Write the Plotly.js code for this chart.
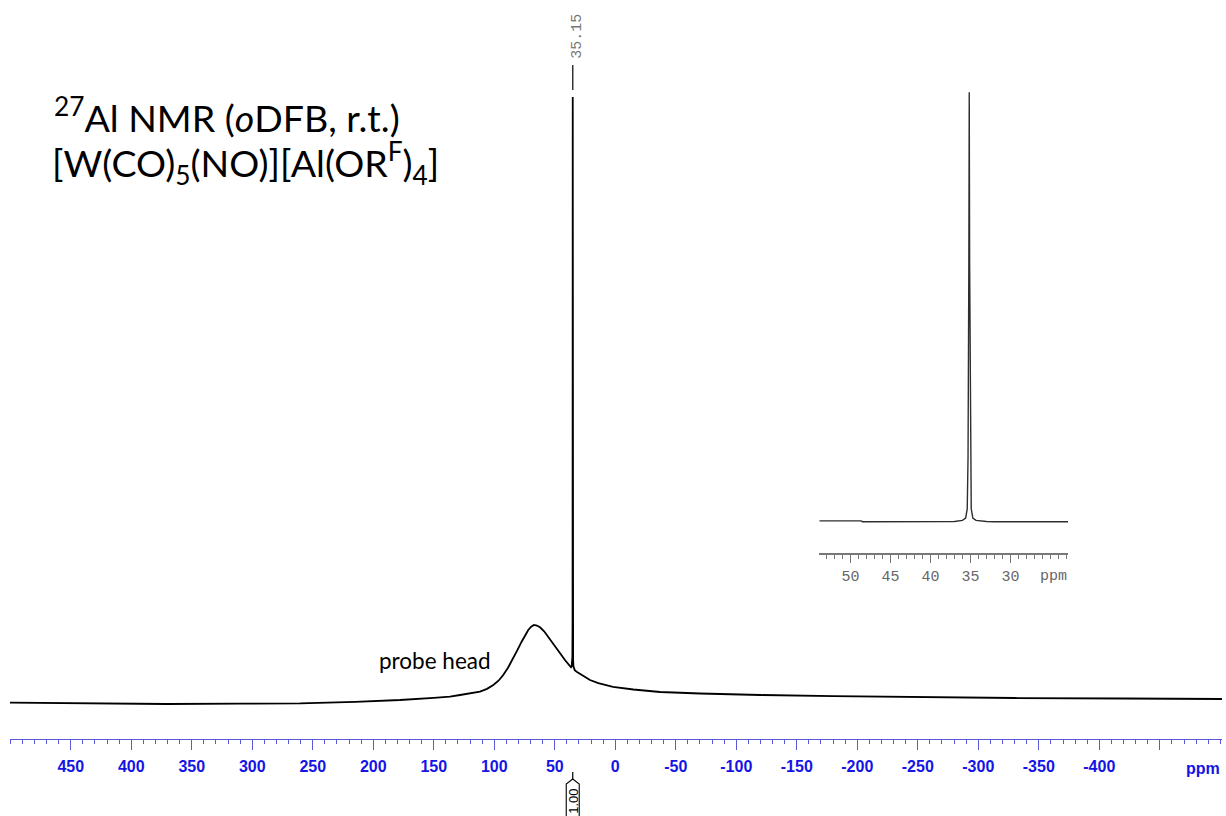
<!DOCTYPE html>
<html>
<head>
<meta charset="utf-8">
<script src="https://cdn.plot.ly/plotly-3.0.1.min.js"></script>
<style>
  html, body { margin: 0; padding: 0; background: #ffffff; }
  #chart { width: 1226px; height: 816px; }
</style>
</head>
<body>
<div id="chart"></div>
<script>
// ---- data ----
// main 27Al spectrum (chemical shift in ppm, relative intensity; sharp peak = 100)
const mainPpm = [500.2, 440, 370.7, 310, 260.6, 215, 177.9, 150, 136.6, 128.3, 120, 111.8, 106, 100.8, 96.5, 92.6, 88.5, 84.3, 80.8, 77.4, 74.5, 71.9, 69.5, 67.2, 64.8, 62.2, 58.8, 55.4, 51.9, 48.4, 45, 41.6, 39, 36.6, 36.0, 35.6, 35.45, 35.3, 35.22, 35.15, 35.08, 35.0, 34.85, 34.6, 34.2, 33.5, 31.9, 26, 20.9, 14, 8, 1.9, -15, -37, -70, -120, -180, -250, -330, -420, -501.4];
const mainInt = [-0.45, -0.6, -0.66, -0.6, -0.55, -0.3, 0, 0.35, 0.55, 0.83, 1.08, 1.38, 1.85, 2.49, 3.2, 4.15, 5.4, 6.92, 8.3, 9.67, 10.75, 11.61, 12.15, 12.44, 12.35, 12.06, 11.4, 10.5, 9.55, 8.57, 7.6, 6.63, 6.0, 5.42, 5.6, 6.6, 7.18, 13.3, 41.5, 100, 41.5, 13.3, 6.8, 5.6, 5.1, 4.95, 4.69, 3.9, 3.32, 2.8, 2.45, 2.16, 1.74, 1.33, 1.08, 0.83, 0.66, 0.5, 0.33, 0.25, 0.17];

// inset: expansion 53.9 - 22.8 ppm
const insetPpm = [53.9, 48.7, 48.5, 40, 37, 36, 35.6, 35.4, 35.3, 35.2, 35.15, 35.1, 35.0, 34.9, 34.7, 34.3, 33, 32, 22.8];
const insetInt = [0.2, 0.2, 0, 0, 0.05, 0.3, 0.86, 3, 15, 60, 100, 60, 15, 3, 0.86, 0.3, 0.05, 0, 0];

// tick labels
const mainTickVals = [450, 400, 350, 300, 250, 200, 150, 100, 50, 0, -50, -100, -150, -200, -250, -300, -350, -400, -450];
const mainTickText = ['450', '400', '350', '300', '250', '200', '150', '100', '50', '0', '-50', '-100', '-150', '-200', '-250', '-300', '-350', '-400', ''];
const insetTickVals = [50, 45, 40, 35, 30];
const insetTickText = ['50', '45', '40', '35', '30'];

const peakPpm = 35.15;
const peakLabel = '35.15';
const integralLabel = '1.00';

// ---- layout helpers (pixels -> paper) ----
const W = 1226, H = 816;
const px = v => v / W;
const py = v => (H - v) / H;

const axisBlue = '#5a5ad8';
const labelBlue = '#1414e6';

const traces = [
  {
    x: mainPpm, y: mainInt, type: 'scatter', mode: 'lines',
    line: { color: '#000000', width: 1.8 },
    xaxis: 'x', yaxis: 'y', hoverinfo: 'skip', showlegend: false
  },
  {
    x: insetPpm, y: insetInt, type: 'scatter', mode: 'lines',
    line: { color: '#2e2e2e', width: 1.4 },
    xaxis: 'x2', yaxis: 'y2', hoverinfo: 'skip', showlegend: false
  }
];

const layout = {
  width: W, height: H,
  margin: { l: 0, r: 0, t: 0, b: 0, pad: 0 },
  paper_bgcolor: '#ffffff', plot_bgcolor: 'rgba(0,0,0,0)',
  showlegend: false,
  xaxis: {
    domain: [px(10), px(1222)], range: [500.2, -501.4], anchor: 'y',
    showline: true, linecolor: axisBlue, linewidth: 1.5,
    ticks: 'outside', ticklen: 10, tickwidth: 1.2, tickcolor: axisBlue,
    tickmode: 'array', tickvals: mainTickVals, ticktext: mainTickText,
    ticklabelstandoff: 3,
    tickfont: { family: 'Liberation Sans, Arial, sans-serif', size: 16, color: labelBlue, weight: 'bold' },
    minor: { dtick: 10, tick0: 0, ticks: 'outside', ticklen: 4, tickwidth: 1, tickcolor: axisBlue, showgrid: false },
    showgrid: false, zeroline: false, fixedrange: true
  },
  yaxis: {
    domain: [py(738.6), 1], range: [-6.40, 116.08], anchor: 'x',
    visible: false, showgrid: false, zeroline: false, fixedrange: true
  },
  xaxis2: {
    domain: [px(819.3), px(1068)], range: [53.9, 22.8], anchor: 'y2',
    showline: true, linecolor: '#777777', linewidth: 1.2,
    ticks: 'outside', ticklen: 8, tickwidth: 1, tickcolor: '#777777',
    tickmode: 'array', tickvals: insetTickVals, ticktext: insetTickText,
    tickfont: { family: 'Liberation Mono, Courier New, monospace', size: 15, color: '#666666' },
    minor: { dtick: 1, tick0: 0, ticks: 'outside', ticklen: 4, tickwidth: 1, tickcolor: '#777777', showgrid: false },
    showgrid: false, zeroline: false, fixedrange: true
  },
  yaxis2: {
    domain: [py(553.3), 1], range: [-7.36, 121.5], anchor: 'x2',
    visible: false, showgrid: false, zeroline: false, fixedrange: true
  },
  shapes: [
    // peak-pick tick above the sharp signal
    { type: 'line', xref: 'x', yref: 'paper', x0: peakPpm, x1: peakPpm, y0: py(90), y1: py(65),
      line: { color: '#333333', width: 1.5 } },
    // integral marker below the axis
    { type: 'line', xref: 'x', yref: 'paper', x0: peakPpm, x1: peakPpm, y0: py(779), y1: py(772),
      line: { color: '#000000', width: 1.2 } },
    { type: 'path', xref: 'x', yref: 'paper', xsizemode: 'pixel', ysizemode: 'pixel',
      xanchor: peakPpm, yanchor: 0,
      path: 'M -6.5 0 L -6.5 32 L 0 37 L 6.5 32 L 6.5 0',
      line: { color: '#000000', width: 1.1 } }
  ],
  annotations: [
    { text: '<sup>27</sup>Al NMR (<i>o</i>DFB, r.t.)', xref: 'paper', yref: 'paper',
      x: px(52), y: py(115), xanchor: 'left', yanchor: 'middle', showarrow: false,
      font: { family: 'Lato, Carlito, sans-serif', size: 37.5, color: '#000000' } },
    { text: '[W(CO)<sub>5</sub>(NO)][Al(OR<sup>F</sup>)<sub>4</sub>]', xref: 'paper', yref: 'paper',
      x: px(50), y: py(163), xanchor: 'left', yanchor: 'middle', showarrow: false,
      font: { family: 'Lato, Carlito, sans-serif', size: 37.5, color: '#000000' } },
    { text: 'probe head', xref: 'paper', yref: 'paper',
      x: px(435), y: py(660), xanchor: 'center', yanchor: 'middle', showarrow: false,
      font: { family: 'Lato, Carlito, sans-serif', size: 22.5, color: '#000000' } },
    { text: 'ppm', xref: 'paper', yref: 'paper',
      x: px(1203), y: py(768), xanchor: 'center', yanchor: 'middle', showarrow: false,
      font: { family: 'Liberation Sans, Arial, sans-serif', size: 16, color: labelBlue, weight: 'bold' } },
    { text: 'ppm', xref: 'paper', yref: 'paper',
      x: px(1053), y: py(576), xanchor: 'center', yanchor: 'middle', showarrow: false,
      font: { family: 'Liberation Mono, Courier New, monospace', size: 15, color: '#666666' } },
    { text: peakLabel, xref: 'x', yref: 'paper', x: peakPpm, xshift: 5, y: py(36),
      xanchor: 'center', yanchor: 'middle', textangle: -90, showarrow: false,
      font: { family: 'Liberation Mono, Courier New, monospace', size: 15, color: '#777777' } },
    { text: integralLabel, xref: 'x', yref: 'paper', x: peakPpm, y: py(801),
      xanchor: 'center', yanchor: 'middle', textangle: -90, showarrow: false,
      font: { family: 'Liberation Sans, Arial, sans-serif', size: 13, color: '#000000' } }
  ]
};

Plotly.newPlot('chart', traces, layout, { staticPlot: true, displayModeBar: false });
</script>
</body>
</html>
